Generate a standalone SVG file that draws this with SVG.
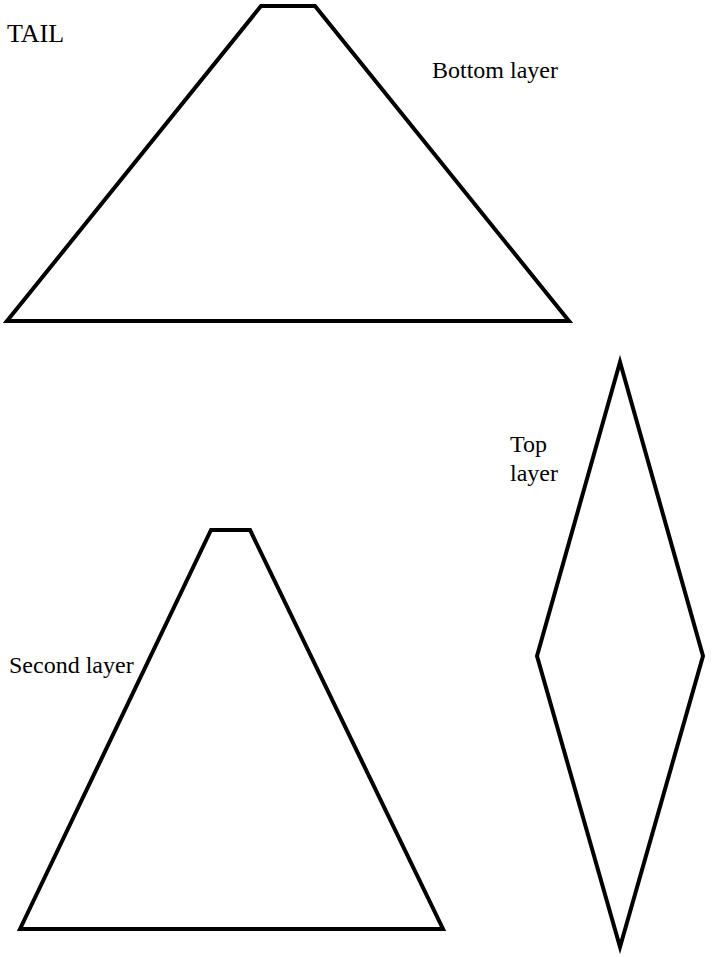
<svg xmlns="http://www.w3.org/2000/svg" width="718" height="957" viewBox="0 0 718 957">
<style>
.s{fill:none;stroke:#000;stroke-width:4;stroke-linejoin:miter}
.t{font-family:"Liberation Serif","Times New Roman",serif;font-size:24px;fill:#000}
</style>
<rect width="718" height="957" fill="#fff"/>
<text class="t" x="7" y="42" style="font-size:26px">TAIL</text>
<g id="bottom-layer">
<polygon class="s" points="7,321 261,6 315,6 569,321"/>
<text class="t" x="432" y="78">Bottom layer</text>
</g>
<g id="second-layer">
<polygon class="s" points="20,929 211,530 250,530 443,929"/>
<text class="t" x="9" y="673">Second layer</text>
</g>
<g id="top-layer">
<polygon class="s" points="620,362 703,656 620,947 537,656"/>
<text class="t" x="510" y="452">Top</text>
<text class="t" x="510" y="481">layer</text>
</g>
<g id="connectors"/>
</svg>
